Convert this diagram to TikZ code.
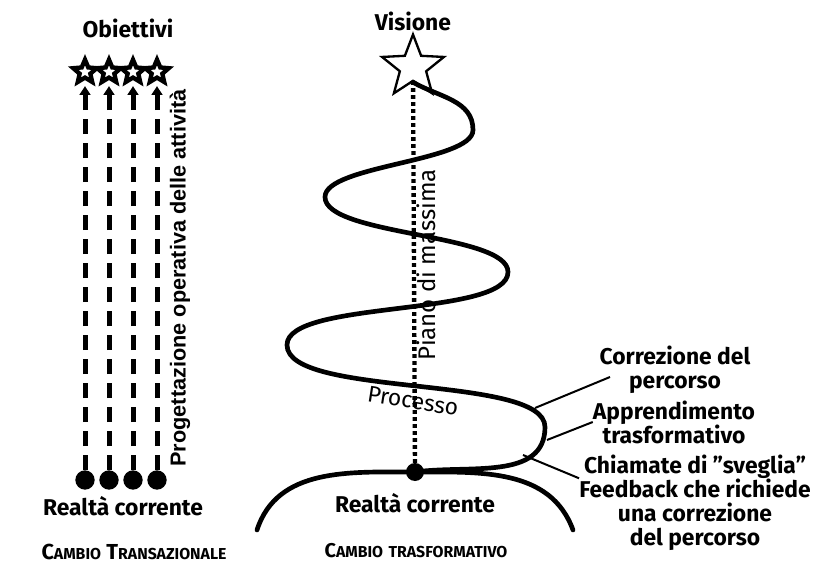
\documentclass[tikz,border=0pt]{standalone}
\usepackage{fontspec}
\setmainfont{Fira Sans}
\newfontfamily\arialfont{Liberation Sans}
\usetikzlibrary{shapes.geometric,arrows.meta,positioning}

\newcommand\bigsmall[3][17]{{\fontsize{#1}{20}\selectfont #2}{\fontsize{13.5}{16}\selectfont #3}}

\tikzset{
  lbl/.style={font=\bfseries\fontsize{19.5}{20.5}\selectfont, align=center, inner sep=0pt}, % etichette
  goal/.style={star, star points=5, star point ratio=2.2, draw, line width=1.3mm, fill=white, minimum size=7.4mm, inner sep=0pt},
  vision/.style={star, star points=5, star point ratio=2.35, draw, line width=0.7mm, fill=white, minimum size=19.5mm, inner sep=0pt},
  dot/.style={circle, fill, inner sep=0pt, minimum size=5.8mm}, % punto di partenza
  plan/.style={line width=1.5mm, dash pattern=on 4.5mm off 2.7mm, shorten >=1.8mm, -{Triangle[width=3.2mm,length=2.6mm]}},
  rough/.style={line width=1.3mm, dash pattern=on 1.1mm off 1mm},
  spiral/.style={line width=1.4mm, line cap=round},
  note/.style={line width=0.6mm}
}

\begin{document}
\begin{tikzpicture}[x=0.3mm,y=-0.3mm]
    \useasboundingbox (0,0) rectangle (818,570);

    % cambio transazionale
    \node[lbl] (obj) at (128,28) {Obiettivi};
    \foreach \i/\x in {1/85,2/109,3/133,4/157} {
      \node[goal] (obj\i) at (\x,72) {};
      \node[dot] (base\i) at (\x,480) {};
      \draw[plan] (base\i) -- (obj\i);
    }
    \node[lbl] (real1) at (123,506) {Realtà corrente};
    \node[font=\arialfont\bfseries\fontsize{18.5}{22}\selectfont, rotate=90, inner sep=0pt]
      (prog) at (180,278) {Progettazione operativa delle attività};
    \node[lbl] (cambio1) at (134,552) {\bigsmall[18.5]{C}{AMBIO} \bigsmall[18.5]{T}{RANSAZIONALE}};

    % cambio trasformativo
    \node[lbl] (vis) at (413,21) {Visione};
    \node[vision] (star) at (413,67) {};
    \coordinate (now) at (415,472);
    \draw[spiral] (257,530) to[out=72,in=180] (now) to[out=0,in=110] (573,530);
    \draw[spiral] (star.south) to[out=-30,in=90] (473,130)
      to[out=-90,in=90,looseness=0.5] (325,197)
      to[out=-90,in=90,looseness=0.5] (508,272)
      to[out=-90,in=90,looseness=0.5] (287,345)
      to[out=-90,in=90,looseness=0.5] (545,427)
      to[out=-90,in=8] (now);
    \node[dot, minimum size=5.4mm] (start) at (now) {};
    \draw[rough] (start) -- (star);
    \node[font=\fontsize{20.5}{22}\selectfont, rotate=90, inner sep=0pt] (piano) at (426,265) {Piano di massima};
    \node[font=\fontsize{19.5}{22}\selectfont, rotate=-9, inner sep=0pt] (proc) at (413,401) {Processo};
    \node[lbl] (real2) at (415,503) {Realtà corrente};
    \node[lbl] (cambio2) at (416,551) {\bigsmall{C}{AMBIO} \bigsmall{}{TRASFORMATIVO}};

    % note a destra
    \node[lbl] (corr) at (675,370) {Correzione del\\percorso};
    \node[lbl] (appr) at (674,422) {Apprendimento\\trasformativo};
    \node[lbl] (chiam) at (695,503) {Chiamate di "sveglia"\\Feedback che richiede\\una correzione\\del percorso};
    \coordinate (c1) at (535,408);
    \coordinate (c2) at (547,440);
    \coordinate (c3) at (523,455);
    \draw[note] (c1) -- (610,377);
    \draw[note] (c2) -- (appr.west);
    \draw[note] (c3) -- ([yshift=-7mm]chiam.north west);
\end{tikzpicture}
\end{document}
